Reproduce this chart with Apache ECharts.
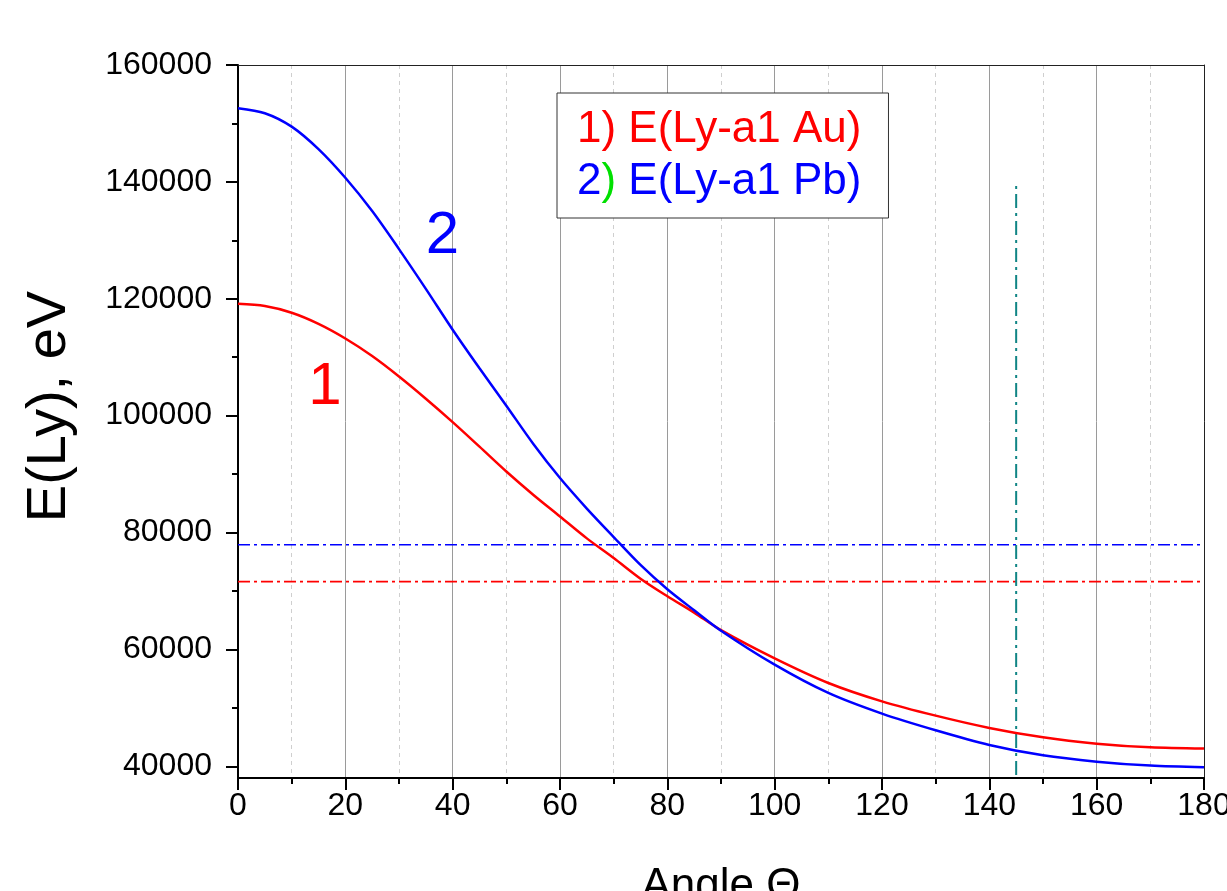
<!DOCTYPE html>
<html><head><meta charset="utf-8">
<script src="https://cdn.jsdelivr.net/npm/echarts@6/dist/echarts.min.js"></script>
<style>html,body{margin:0;padding:0;background:#fff}#c{width:1227px;height:891px}</style>
</head><body><div id="c"></div>
<script>
// ---- data ----
const angles   = [0, 5, 10, 15, 20, 25, 30, 35, 40, 45, 50, 55, 60, 65, 70, 75, 80, 85, 90, 100, 110, 120, 130, 140, 150, 160, 170, 180];
const auValues = [119130, 118750, 117600, 115700, 113200, 110200, 106700, 102900, 98900, 94700, 90450, 86480, 82750, 79000, 75640, 72100, 69100, 66300, 63300, 58470, 54260, 51120, 48670, 46570, 44960, 43880, 43250, 43030];
const pbValues = [152600, 151750, 149450, 145600, 140700, 135000, 128500, 121700, 114700, 108100, 101700, 95200, 89320, 84100, 79230, 74450, 70300, 66700, 63200, 57390, 52550, 49010, 46160, 43660, 41880, 40800, 40120, 39830];
const refAu = 71600;           // red dash-dot level
const refPb = 77900;           // blue dash-dot level
const markerAngle = 145;       // teal vertical dash-dot
const markerRange = [38500, 140000];
const xRange = [0, 180];
const yRange = [38000, 160000];
const yMajorTicks = [40000, 60000, 80000, 100000, 120000, 140000, 160000];
const yMinorTicks = [50000, 70000, 90000, 110000, 130000, 150000];
const seriesNames = ['1) E(Ly-a1 Au)', '2) E(Ly-a1 Pb)'];
const label1 = [16.2, 104800];
const label2 = [38.1, 130600];

const FONT = 'Liberation Sans, Arial, sans-serif';
const zip = (xs, ys) => xs.map((x, i) => [x, ys[i]]);

const chart = echarts.init(document.getElementById('c'), null, {renderer: 'canvas'});
const dashDot = [12, 4, 3, 4];

chart.setOption({
  animation: false,
  backgroundColor: '#fff',
  textStyle: {fontFamily: FONT},
  grid: {left: 238, right: 23, top: 65, bottom: 113, containLabel: false, outerBoundsMode: 'none'},
  legend: {
    data: seriesNames,
    orient: 'vertical',
    left: 557, top: 93,
    icon: 'none', itemWidth: 0, itemHeight: 20, itemGap: 8,
    padding: [15, 27, 14, 15],
    borderColor: '#333', borderWidth: 1, backgroundColor: '#fff',
    selectedMode: false,
    formatter: name => name.startsWith('1')
      ? '{r|' + name + '}'
      : '{b|2}{g|)}{b|' + name.slice(2) + '}',
    textStyle: {
      fontSize: 44, fontFamily: FONT,
      rich: {
        r: {color: '#ff0000', fontSize: 44, fontFamily: FONT},
        b: {color: '#0000ff', fontSize: 44, fontFamily: FONT},
        g: {color: '#00e000', fontSize: 44, fontFamily: FONT}
      }
    }
  },
  xAxis: [{
    type: 'value', min: xRange[0], max: xRange[1], interval: 20,
    axisLine: {lineStyle: {color: '#000', width: 2}},
    axisTick: {length: 12, lineStyle: {color: '#000', width: 2}},
    minorTick: {show: true, splitNumber: 2, length: 6, lineStyle: {color: '#000', width: 2}},
    splitLine: {show: true, lineStyle: {color: '#9a9a9a', width: 1}},
    minorSplitLine: {show: true, lineStyle: {color: '#cfcfcf', width: 1, type: [4, 4]}},
    axisLabel: {fontSize: 32, color: '#000', margin: 12, fontFamily: FONT},
    name: 'Angle \u0398', nameLocation: 'middle', nameGap: 87,
    nameTextStyle: {fontSize: 44, color: '#000', fontFamily: FONT}
  }, {
    type: 'value', position: 'top', min: xRange[0], max: xRange[1],
    axisLine: {show: true, lineStyle: {color: '#222', width: 1}},
    axisTick: {show: false}, axisLabel: {show: false}, splitLine: {show: false}
  }],
  yAxis: [{
    type: 'value', min: yRange[0], max: yRange[1],
    axisLine: {show: true, lineStyle: {color: '#000', width: 2}},
    axisTick: {show: true, length: 12, customValues: yMajorTicks, lineStyle: {color: '#000', width: 2}},
    axisLabel: {fontSize: 32, color: '#000', margin: 26, customValues: yMajorTicks, fontFamily: FONT,
                formatter: v => String(v)},
    splitLine: {show: false},
    name: 'E(Ly), eV', nameLocation: 'middle', nameRotate: 90, nameGap: 160,
    nameTextStyle: {fontSize: 56, color: '#000', fontFamily: FONT, padding: [0, 0, 0, 30]}
  }, {
    type: 'value', min: yRange[0], max: yRange[1], position: 'left',
    axisLine: {show: false},
    axisTick: {show: true, length: 6, customValues: yMinorTicks, lineStyle: {color: '#000', width: 2}},
    axisLabel: {show: false}, splitLine: {show: false}
  }, {
    type: 'value', min: yRange[0], max: yRange[1], position: 'right',
    axisLine: {show: true, lineStyle: {color: '#222', width: 1}},
    axisTick: {show: false}, axisLabel: {show: false}, splitLine: {show: false}
  }],
  series: [{
    name: seriesNames[0], type: 'line', data: zip(angles, auValues),
    smooth: 0.3, showSymbol: false, symbol: 'none',
    lineStyle: {color: '#ff0000', width: 2.5}, itemStyle: {color: '#ff0000'}, z: 5,
    markPoint: {
      symbol: 'circle', symbolSize: 0, silent: true,
      data: [{coord: label1, value: '1'}],
      label: {show: true, position: 'inside', formatter: '1', color: '#ff0000', fontSize: 60, fontFamily: FONT}
    }
  }, {
    name: seriesNames[1], type: 'line', data: zip(angles, pbValues),
    smooth: 0.3, showSymbol: false, symbol: 'none',
    lineStyle: {color: '#0000ff', width: 2.5}, itemStyle: {color: '#0000ff'}, z: 5,
    markPoint: {
      symbol: 'circle', symbolSize: 0, silent: true,
      data: [{coord: label2, value: '2'}],
      label: {show: true, position: 'inside', formatter: '2', color: '#0000ff', fontSize: 60, fontFamily: FONT}
    }
  }, {
    name: 'refPb', type: 'line', data: [[xRange[0], refPb], [xRange[1], refPb]],
    showSymbol: false, symbol: 'none', silent: true,
    lineStyle: {color: '#0000ff', width: 1.6, type: dashDot}, z: 3
  }, {
    name: 'refAu', type: 'line', data: [[xRange[0], refAu], [xRange[1], refAu]],
    showSymbol: false, symbol: 'none', silent: true,
    lineStyle: {color: '#ff0000', width: 1.6, type: dashDot}, z: 3
  }, {
    name: 'marker', type: 'line', data: [[markerAngle, markerRange[0]], [markerAngle, markerRange[1]]],
    showSymbol: false, symbol: 'none', silent: true,
    lineStyle: {color: '#108585', width: 2, type: [14, 5, 3, 5]}, z: 3
  }]
});
</script>
</body></html>
